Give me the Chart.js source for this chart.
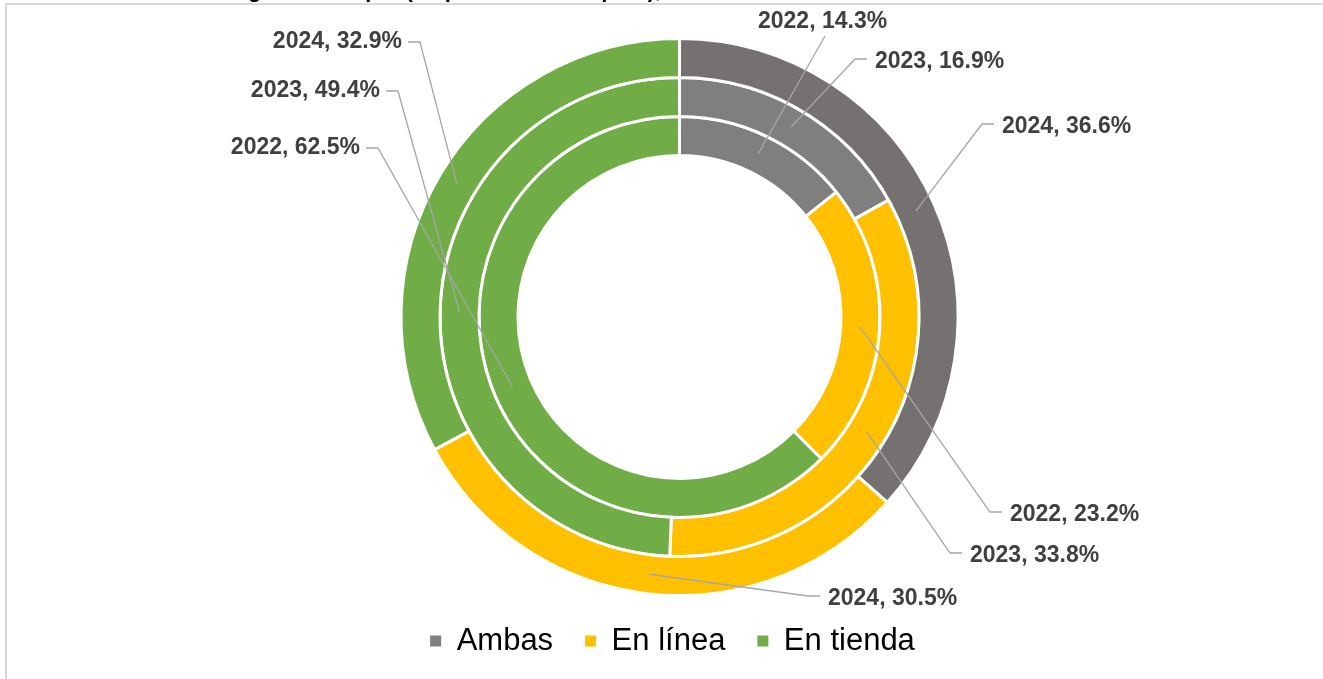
<!DOCTYPE html>
<html>
<head>
<meta charset="utf-8">
<script src="https://cdn.jsdelivr.net/npm/chart.js@4.4.1/dist/chart.umd.min.js"></script>
<style>
  html, body { margin: 0; padding: 0; background: #fff; overflow: hidden; }
  #frame { position: absolute; left: 5px; top: 3px; width: 1400px; height: 800px; border: 2px solid #d9d9d9; box-sizing: border-box; }
  #wrap { position: absolute; left: 0; top: 0; width: 1323px; height: 679px; }
</style>
</head>
<body>
<div id="frame"></div>
<div id="wrap"><canvas id="donut" width="1323" height="679"></canvas></div>
<script>
// data: rings go outer -> inner
const categories = ['Ambas', 'En línea', 'En tienda'];
const years = ['2024', '2023', '2022'];
const values2024 = [36.6, 30.5, 32.9];
const values2023 = [16.9, 33.8, 49.4];
const values2022 = [14.3, 23.2, 62.5];
const titleText = 'Lugar de compra (en puntos de compras), 2022-2024';

const outerColors = ['#767171', '#FFC000', '#70AD47'];
const ringColors = ['#7F7F7F', '#FFC000', '#70AD47'];

// where each data label sits (text anchor) - side says where the leader line comes in
const labelPos = [
  [{x: 1002, y: 127, side: 'r'}, {x: 828, y: 599, side: 'r'}, {x: 402, y: 42, side: 'l'}],
  [{x: 875, y: 62, side: 'r'}, {x: 970, y: 556, side: 'r'}, {x: 380, y: 91, side: 'l'}],
  [{x: 758, y: 22, side: 't'}, {x: 1010, y: 515, side: 'r'}, {x: 360, y: 148, side: 'l'}]
];

const FONT = '"Liberation Sans", Arial, sans-serif';

const dataLabels = {
  id: 'dataLabels',
  afterLayout(chart) {
    // nudge legend a bit left, like the original
    chart.legend.left -= 7;
    chart.legend.right -= 7;
  },
  afterDraw(chart) {
    const ctx = chart.ctx;
    ctx.save();
    chart.data.datasets.forEach((ds, di) => {
      const meta = chart.getDatasetMeta(di);
      meta.data.forEach((arc, i) => {
        const p = arc.getCenterPoint();
        const pos = labelPos[di][i];
        const txt = years[di] + ', ' + ds.data[i].toFixed(1) + '%';

        ctx.strokeStyle = '#A6A6A6';
        ctx.lineWidth = 1.3;
        ctx.beginPath();
        ctx.moveTo(p.x, p.y);
        if (pos.side === 'r') {
          ctx.lineTo(pos.x - 20, pos.y - 3);
          ctx.lineTo(pos.x - 8, pos.y - 3);
        } else if (pos.side === 'l') {
          ctx.lineTo(pos.x + 18, pos.y);
          ctx.lineTo(pos.x + 6, pos.y);
        } else {
          ctx.lineTo(pos.x + 67, pos.y + 14);
        }
        ctx.stroke();

        ctx.font = 'bold 23px ' + FONT;
        ctx.fillStyle = '#404040';
        ctx.textBaseline = 'middle';
        ctx.textAlign = pos.side === 'l' ? 'right' : 'left';
        ctx.fillText(txt, pos.x, pos.y);
      });
    });

    // title sits above the frame, mostly cut off
    ctx.font = 'bold 22px ' + FONT;
    ctx.fillStyle = '#000';
    ctx.textAlign = 'left';
    ctx.textBaseline = 'alphabetic';
    ctx.fillText(titleText, 221, -3);
    ctx.restore();
  }
};

new Chart(document.getElementById('donut'), {
  type: 'doughnut',
  data: {
    labels: categories,
    datasets: [
      { label: years[0], data: values2024, backgroundColor: outerColors },
      { label: years[1], data: values2023, backgroundColor: ringColors },
      { label: years[2], data: values2022, backgroundColor: ringColors }
    ]
  },
  options: {
    responsive: false,
    animation: false,
    devicePixelRatio: 1,
    radius: 278.5,
    cutout: '58%',
    layout: { padding: { left: 36, right: 0, top: 40.5, bottom: 12.5 } },
    elements: { arc: { borderColor: '#fff', borderWidth: 3 } },
    plugins: {
      tooltip: { enabled: false },
      legend: {
        position: 'bottom',
        labels: {
          boxWidth: 11,
          boxHeight: 11,
          padding: 32,
          color: '#595959',
          font: { size: 31, family: FONT },
          generateLabels: (chart) => categories.map((c, i) => ({
            text: c,
            fillStyle: ringColors[i],
            strokeStyle: ringColors[i],
            lineWidth: 0,
            index: i
          }))
        }
      }
    }
  },
  plugins: [dataLabels]
});
</script>
</body>
</html>
